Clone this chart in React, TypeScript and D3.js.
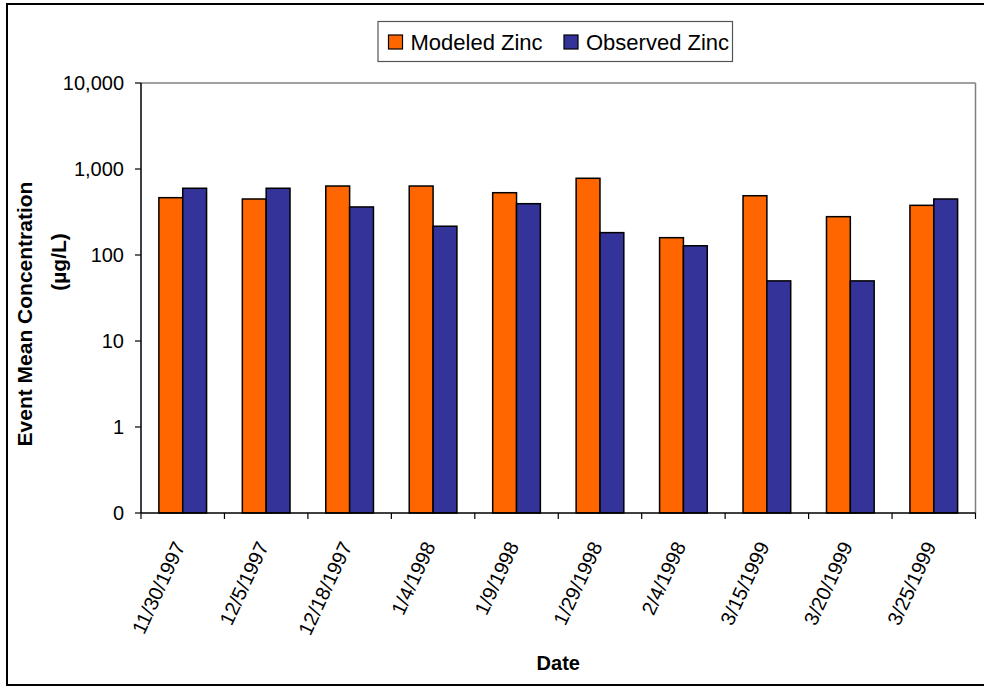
import React from "react";
import * as d3 from "d3";

const categories = ["11/30/1997", "12/5/1997", "12/18/1997", "1/4/1998", "1/9/1998", "1/29/1998", "2/4/1998", "3/15/1999", "3/20/1999", "3/25/1999"];
const seriesNames = ["Modeled Zinc", "Observed Zinc"];
const modeledZinc = [464, 448, 634, 634, 530, 780, 159, 489, 279, 378];
const observedZinc = [597, 597, 362, 216, 395, 182, 128, 50, 50, 448];
const yTicks = [0.1, 1, 10, 100, 1000, 10000];
const colors = ["#FF6600", "#333399"];

const W = 984, H = 686;
const plot = { left: 141, right: 975.5, top: 83, bottom: 513 };
const FONT = "'Liberation Sans', Arial, sans-serif";

export default function App() {
  const x0 = d3.scaleBand<string>().domain(categories).range([plot.left, plot.right]).paddingInner(1.5 / 3.5).paddingOuter(0.75 / 3.5);
  const x1 = d3.scaleBand<string>().domain(seriesNames).range([0, x0.bandwidth()]);
  const y = d3.scaleLog().domain([0.1, 10000]).range([plot.bottom, plot.top]);
  const fmt = d3.format(",");
  const step = x0.step();
  const series = [modeledZinc, observedZinc];

  return (
    <svg width={W} height={H} style={{ position: "absolute", left: 0, top: 0, display: "block", background: "#fff" }} fontFamily={FONT}>
      <rect x={7} y={4} width={990} height={681} fill="#fff" stroke="#000" strokeWidth={2} />
      {/* plot frame top/right */}
      <line x1={plot.left} x2={plot.right} y1={plot.top} y2={plot.top} stroke="#808080" strokeWidth={1.5} />
      <line x1={plot.right} x2={plot.right} y1={plot.top} y2={plot.bottom} stroke="#808080" strokeWidth={1.5} />
      {/* bars */}
      {categories.map((c, i) => (
        <g key={c}>
          {seriesNames.map((s, j) => {
            const v = series[j][i];
            const bx = (x0(c) as number) + (x1(s) as number);
            return (
              <rect key={s} x={bx} y={y(v)} width={x1.bandwidth()} height={plot.bottom - y(v)} fill={colors[j]} stroke="#000" strokeWidth={1.5} />
            );
          })}
        </g>
      ))}
      {/* axes */}
      <line x1={plot.left} x2={plot.left} y1={plot.top} y2={plot.bottom} stroke="#000" strokeWidth={1.5} />
      <line x1={plot.left} x2={plot.right} y1={plot.bottom} y2={plot.bottom} stroke="#000" strokeWidth={1.5} />
      {yTicks.map((t) => (
        <g key={t}>
          <line x1={plot.left - 6} x2={plot.left} y1={y(t)} y2={y(t)} stroke="#000" strokeWidth={1.2} />
          <text x={124} y={y(t) + 7} textAnchor="end" fontSize={20} fill="#000">{t < 1 ? "0" : fmt(t)}</text>
        </g>
      ))}
      {d3.range(categories.length + 1).map((i) => (
        <line key={i} x1={plot.left + i * step} x2={plot.left + i * step} y1={plot.bottom} y2={plot.bottom + 6} stroke="#000" strokeWidth={1.2} />
      ))}
      {categories.map((c) => {
        const cx = (x0(c) as number) + x0.bandwidth() / 2;
        return (
          <text key={c} transform={`translate(${cx + 3},${546}) rotate(-65)`} textAnchor="end" fontSize={20} fill="#000">{c}</text>
        );
      })}
      {/* axis titles */}
      <text x={(plot.left + plot.right) / 2} y={670} textAnchor="middle" fontSize={20} fontWeight="bold">Date</text>
      <text transform={`translate(32,314) rotate(-90)`} textAnchor="middle" fontSize={21} fontWeight="bold">Event Mean Concentration</text>
      <text transform={`translate(66,262) rotate(-90)`} textAnchor="middle" fontSize={21} fontWeight="bold">(µg/L)</text>
      {/* legend */}
      <rect x={378} y={21.5} width={354.5} height={40} fill="#fff" stroke="#555" strokeWidth={1.2} />
      {seriesNames.map((s, j) => {
        const sx = j === 0 ? 388.5 : 564;
        return (
          <g key={s}>
            <rect x={sx} y={35} width={14} height={14} fill={colors[j]} stroke="#000" strokeWidth={1.2} />
            <text x={sx + 22} y={49.5} fontSize={22} fill="#000">{s}</text>
          </g>
        );
      })}
    </svg>
  );
}
